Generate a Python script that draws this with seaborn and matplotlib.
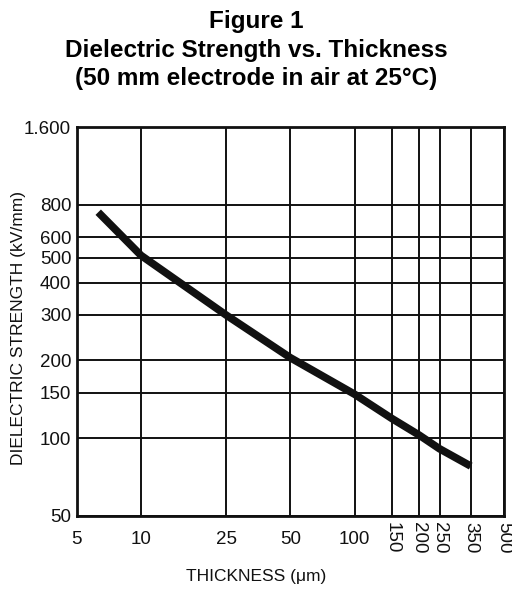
import numpy as np
import pandas as pd
import matplotlib
matplotlib.use("Agg")
import matplotlib.pyplot as plt
import matplotlib.transforms as mtrans
import seaborn as sns

# values
thickness_um = [6.3, 10, 25, 50, 100, 150, 200, 250, 350]
strength_kv_mm = [750, 510, 300, 205, 148, 119, 103, 91, 78]

x_ticks = [5, 10, 25, 50, 100, 150, 200, 250, 350, 500]
y_ticks = [50, 100, 150, 200, 300, 400, 500, 600, 800, 1600]
y_tick_labels = ["50", "100", "150", "200", "300", "400", "500", "600", "800", "1.600"]

df = pd.DataFrame({"thickness": thickness_um, "strength": strength_kv_mm})

sns.set_style("white")
plt.rcParams["font.family"] = ["Liberation Sans", "DejaVu Sans"]

fig = plt.figure(figsize=(5.12, 5.89), dpi=100)
ax = fig.add_axes([0.150, 0.124, 0.834, 0.660])

sns.lineplot(data=df, x="thickness", y="strength", ax=ax,
             color="#111111", linewidth=5.5, solid_capstyle="butt")

ax.set_xscale("log")
ax.set_yscale("log")
ax.set_xlim(5, 500)
ax.set_ylim(50, 1600)

ax.set_xticks(x_ticks)
ax.set_xticklabels([str(v) for v in x_ticks])
ax.set_yticks(y_ticks)
ax.set_yticklabels(y_tick_labels)
ax.minorticks_off()

ax.grid(True, color="#111111", linewidth=1.4)
for s in ax.spines.values():
    s.set_color("#111111")
    s.set_linewidth(2)

ax.tick_params(axis="both", length=0, labelsize=13.5, colors="#111111")
ax.tick_params(axis="x", pad=4)
ax.tick_params(axis="y", pad=4)

# last five x labels are written sideways
shift = mtrans.ScaledTranslation(0, -9 / 100, fig.dpi_scale_trans)
for val, lab in zip(x_ticks, ax.get_xticklabels()):
    lab.set_va("top")
    if val >= 150:
        lab.set_rotation(270)
    else:
        lab.set_transform(lab.get_transform() + shift)

ax.set_xlabel("")
ax.set_ylabel("")
fig.text(0.5, 1 - 577 / 589, "THICKNESS (\u03bcm)", ha="center", va="center",
         fontsize=12.5, color="#111111")
fig.text(0.036, 1 - 328 / 589, "DIELECTRIC STRENGTH (kV/mm)", ha="center",
         va="center", rotation=90, fontsize=12.5, color="#111111")

title = "Figure 1\nDielectric Strength vs. Thickness\n(50 mm electrode in air at 25\u00b0C)"
fig.text(0.5, 1 - 50 / 589, title, ha="center", va="center", fontsize=17.5,
         fontweight="bold", linespacing=1.33, color="black")

fig.savefig("out.png", dpi=100)
